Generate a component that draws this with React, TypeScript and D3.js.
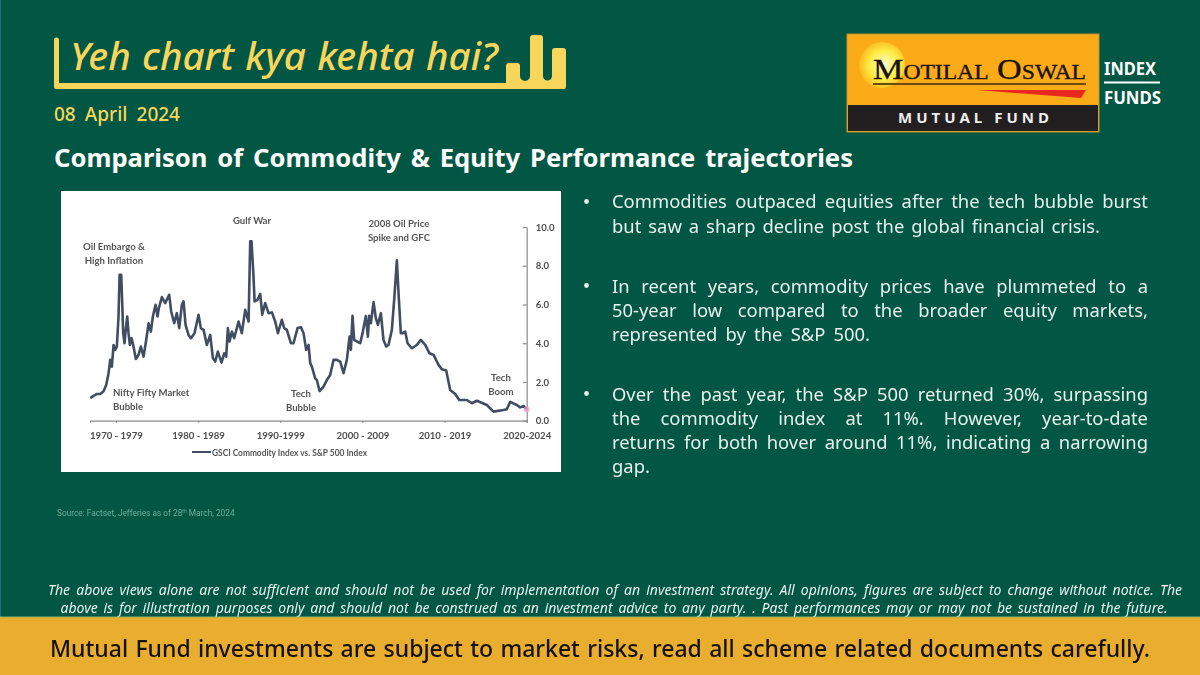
import React, { useEffect, useRef } from 'react';
import * as d3 from 'd3';

// GSCI / S&P 500 ratio
const years = [
  1971.13, 1971.53, 1971.94, 1972.34, 1972.75, 1973.07, 1973.36, 1973.56, 1973.76, 1973.97, 1974.17, 1974.37, 1974.57,
  1974.7, 1974.9, 1975.02, 1975.14, 1975.3, 1975.43, 1975.63, 1975.79, 1975.95, 1976.16, 1976.36, 1976.68, 1977.01,
  1977.29, 1977.62, 1977.94, 1978.23, 1978.51, 1978.75, 1979.08, 1979.32, 1979.48, 1979.85, 1980.25, 1980.74, 1980.98,
  1981.35, 1981.67, 1981.96, 1982.28, 1982.49, 1982.73, 1983.09, 1983.38, 1983.82, 1984.31, 1984.59, 1984.92, 1985.32,
  1985.73, 1986.06, 1986.34, 1986.66, 1987.11, 1987.43, 1987.68, 1987.88, 1988.08, 1988.37, 1988.65, 1989.18, 1989.58,
  1989.99, 1990.4, 1990.6, 1990.76, 1991.0, 1991.13, 1991.49, 1991.82, 1992.06, 1992.42, 1992.83, 1993.24, 1993.64,
  1993.97, 1994.45, 1994.74, 1995.06, 1995.55, 1995.87, 1996.36, 1996.77, 1997.09, 1997.41, 1997.7, 1997.9, 1998.1,
  1998.51, 1998.71, 1999.04, 1999.52, 1999.93, 2000.33, 2000.74, 2001.15, 2001.55, 2001.96, 2002.36, 2002.69, 2002.85,
  2003.05, 2003.25, 2003.58, 2003.99, 2004.31, 2004.67, 2004.92, 2005.08, 2005.28, 2005.61, 2005.89, 2006.14, 2006.5,
  2006.82, 2007.15, 2007.43, 2007.84, 2008.12, 2008.45, 2008.65, 2008.93, 2009.18, 2009.46, 2009.75, 2010.27, 2010.88,
  2011.37, 2011.9, 2012.42, 2012.91, 2013.52, 2013.92, 2014.45, 2014.94, 2015.55, 2016.04, 2016.97, 2017.58, 2018.18,
  2019.4, 2020.21, 2021.42, 2021.83, 2022.24, 2023.05, 2023.45, 2023.86, 2024.25,
];
const ratio = [
  1.17, 1.28, 1.38, 1.38, 1.52, 1.84, 2.45, 3.14, 2.79, 3.91, 3.66, 3.83, 5.38,
  7.53, 7.53, 6.07, 4.52, 4.0, 4.6, 5.38, 4.52, 3.91, 4.26, 3.91, 3.19, 3.4,
  3.83, 3.31, 4.17, 5.03, 4.6, 5.38, 5.98, 5.38, 5.81, 6.38, 6.07, 6.5, 5.64,
  5.03, 5.55, 4.78, 5.98, 6.16, 4.95, 4.43, 4.26, 4.52, 5.47, 4.78, 4.69, 3.91,
  4.43, 3.22, 3.05, 3.57, 3.0, 3.48, 3.31, 4.78, 4.09, 4.6, 4.26, 5.12, 4.52,
  5.72, 5.12, 9.26, 9.26, 7.45, 6.16, 6.24, 6.55, 5.47, 6.07, 5.55, 5.59, 5.12,
  4.52, 5.21, 4.78, 4.69, 4.0, 4.0, 4.78, 4.83, 4.52, 3.66, 3.91, 2.97, 2.79,
  2.19, 2.1, 1.53, 1.76, 2.1, 2.36, 3.14, 3.14, 3.05, 2.45, 3.14, 4.34, 3.66,
  5.41, 4.17, 4.09, 4.0, 4.6, 5.41, 4.34, 5.41, 5.03, 6.12, 5.29, 4.95, 5.55,
  4.17, 3.83, 3.91, 4.69, 6.24, 8.28, 6.59, 4.52, 4.52, 4.6, 4.0, 3.74, 3.91,
  4.17, 3.91, 3.48, 3.4, 2.88, 2.66, 2.59, 1.59, 1.38, 1.07, 1.07, 0.9, 1.03,
  0.81, 0.47, 0.55, 0.59, 0.97, 0.81, 0.69, 0.76, 0.59,
];
const decadeTicks = [1974.25, 1984.25, 1994.25, 2004.25, 2014.25, 2024.25];
const decadeLabels = ['1970 - 1979', '1980 - 1989', '1990-1999', '2000 - 2009', '2010 - 2019', '2020-2024'];
const yTicks = [0, 2, 4, 6, 8, 10];

const bullet1 = [
  'Commodities outpaced equities after the tech bubble burst',
  'but saw a sharp decline post the global financial crisis.',
];
const bullet2 = [
  'In recent years, commodity prices have plummeted to a',
  '50-year low compared to the broader equity markets,',
  'represented by the S&P 500.',
];
const bullet3 = [
  'Over the past year, the S&P 500 returned 30%, surpassing',
  'the commodity index at 11%. However, year-to-date',
  'returns for both hover around 11%, indicating a narrowing',
  'gap.',
];

const green = '#025744';
const yellow = '#f8d65c';
const font = "'Noto Sans', sans-serif";
const chartFont = 'Lato, sans-serif';
const ink = '#3f4d63';

const x = d3.scaleLinear().domain([1971.1, 2024.25]).range([90, 526.7]);
const y = d3.scaleLinear().domain([0, 10]).range([420.7, 227]);
const line = d3.line<number>().x((d, i) => x(years[i])).y((d) => y(d));

export default function App() {
  const svgRef = useRef<SVGSVGElement>(null);
  const xAxisRef = useRef<SVGGElement>(null);
  const yAxisRef = useRef<SVGGElement>(null);

  useEffect(() => {
    const xAxis = d3.axisBottom(x).tickValues(decadeTicks).tickSize(2).tickPadding(9)
      .tickFormat((d, i) => decadeLabels[i]);
    const yAxis = d3.axisRight(y).tickValues(yTicks).tickSizeOuter(0).tickSizeInner(-4).tickPadding(9)
      .tickFormat(d3.format('.1f'));
    d3.select(xAxisRef.current).call(xAxis as any);
    d3.select(yAxisRef.current).call(yAxis as any);
    [xAxisRef, yAxisRef].forEach((r) => {
      const g = d3.select(r.current);
      g.attr('font-family', chartFont).attr('font-size', 9.6).attr('font-weight', 700);
      g.selectAll('text').attr('fill', '#4d4d4d');
      g.selectAll('path,line').attr('stroke', '#8c8c8c').attr('stroke-width', 1.2);
    });

    // stretch word gaps so each line ends where it does in the slide
    d3.select(svgRef.current).selectAll<SVGTextElement, unknown>('text[data-w]').each(function () {
      const el = this;
      const target = +el.getAttribute('data-w')!;
      const gaps = (el.textContent || '').trim().split(/\s+/).length - 1;
      if (gaps > 0) el.setAttribute('word-spacing', String((target - el.getComputedTextLength()) / gaps));
    });
  }, []);

  const body = (lines: string[], widths: number[], baselines: number[], dotY: number) => (
    <g fontFamily={font} fontSize={18.4} fontWeight={400} fill="#e8f1ee">
      <circle cx={586.5} cy={dotY} r={2.4} />
      {lines.map((t, i) => (
        <text key={t} x={612} y={baselines[i]} data-w={widths[i]}>{t}</text>
      ))}
    </g>
  );

  const note = (lines: string[], cx: number, baselines: number[], anchor = 'middle') => (
    <g fontFamily={chartFont} fontSize={9.6} fontWeight={700} fill="#555" textAnchor={anchor}>
      {lines.map((t, i) => <text key={t} x={cx} y={baselines[i]}>{t}</text>)}
    </g>
  );

  return (
    <svg ref={svgRef} width={1200} height={675} style={{ position: 'absolute', left: 0, top: 0 }}>
      <defs>
        <radialGradient id="sun" cx="0.55" cy="0.5" r="0.55">
          <stop offset="0" stopColor="#fffbd0" />
          <stop offset="0.55" stopColor="#fdf04a" />
          <stop offset="1" stopColor="#fbb81c" />
        </radialGradient>
        <filter id="soft"><feGaussianBlur stdDeviation="0.35" /></filter>
      </defs>
      <rect width={1200} height={675} fill={green} />
      <rect width={1} height={617} fill="#1d6f86" />

      {/* header */}
      <path
        fill={yellow}
        d="M54 40a2.5 2.5 0 0 1 5 0V83H506V66a3 3 0 0 1 3-3h8a3 3 0 0 1 3 3V76a5 5 0 0 0 10 0V38a3 3 0 0 1 3-3h7a3 3 0 0 1 3 3V76a4.5 4.5 0 0 0 9 0V51a3 3 0 0 1 3-3h8a3 3 0 0 1 3 3V87a2 2 0 0 1-2 2H56a2 2 0 0 1-2-2Z"
      />
      <text x={70} y={70} fontFamily={font} fontStyle="italic" fontWeight={500} fontSize={38.5} fill={yellow} data-w={428}>
        Yeh chart kya kehta hai?
      </text>
      <text x={54} y={120.5} fontFamily={font} fontWeight={500} fontSize={19} fill={yellow} data-w={126}>08 April 2024</text>
      <text x={54} y={167} fontFamily={font} fontWeight={700} fontSize={25.6} fill="#fff" data-w={799}>
        Comparison of Commodity &amp; Equity Performance trajectories
      </text>

      {/* logo */}
      <rect x={847} y={34} width={252} height={98} fill="#fbab18" stroke="#b8932f" />
      <circle cx={882} cy={65} r={23} fill="url(#sun)" />
      <text x={873} y={79} fontFamily="'Liberation Serif', serif" fontSize={29} fill="#1a1208" stroke="#1a1208" strokeWidth={0.35} textLength={213} lengthAdjust="spacingAndGlyphs" style={{ fontVariant: 'small-caps' }}>
        Motilal Oswal
      </text>
      <rect x={873} y={83} width={213} height={2} fill="#6d4a12" />
      <path d="M977 90H1086L1081 98Z" fill="#e8281e" />
      <rect x={848} y={105} width={250} height={26} fill="#231f20" />
      <text x={898} y={123} fontFamily={font} fontWeight={700} fontSize={15} fill="#eee" textLength={151}>MUTUAL FUND</text>
      <g fontFamily={font} fontWeight={700} fontSize={18} fill="#fff">
        <text x={1104} y={75} textLength={52} lengthAdjust="spacingAndGlyphs">INDEX</text>
        <text x={1104} y={104} textLength={57} lengthAdjust="spacingAndGlyphs">FUNDS</text>
      </g>
      <rect x={1104} y={81.5} width={56} height={2} fill="#fff" />

      {/* chart picture */}
      <rect x={61} y={191} width={500} height={281} fill="#fff" />
      <g filter="url(#soft)">
        <g ref={xAxisRef} transform="translate(0,420.7)" />
        <g ref={yAxisRef} transform="translate(526.7,0)" />
        <path d={line(ratio) || ''} fill="none" stroke={ink} strokeWidth={2.6} strokeLinejoin="round" />
        <circle cx={x(2024.25)} cy={y(0.59)} r={3} fill="#f0a0c8" opacity={0.75} />
        {note(['Oil Embargo &', 'High Inflation'], 114, [250, 264])}
        {note(['Gulf War'], 252, [224])}
        {note(['Nifty Fifty Market', 'Bubble'], 113, [396, 410], 'start')}
        {note(['Tech', 'Bubble'], 301, [397, 411])}
        {note(['2008 Oil Price', 'Spike and GFC'], 399, [227, 241])}
        {note(['Tech', 'Boom'], 501, [381, 395])}
        <line x1={192} x2={211} y1={452} y2={452} stroke={ink} strokeWidth={2} />
        <text x={212} y={456} fontFamily={chartFont} fontSize={9.6} fontWeight={700} fill="#555" textLength={155} lengthAdjust="spacingAndGlyphs">
          GSCI Commodity Index vs. S&amp;P 500 Index
        </text>
      </g>

      <text x={57} y={515.5} fontFamily="Roboto, sans-serif" fontSize={8.3} fill="#6fae9b">
        Source: Factset, Jefferies as of 28<tspan fontSize={5} dy={-3}>th</tspan><tspan dy={3}> March, 2024</tspan>
      </text>

      {/* commentary */}
      {body(bullet1, [536, 488], [208, 232.5], 201.5)}
      {body(bullet2, [536, 536, 258], [292.5, 317, 341], 285.5)}
      {body(bullet3, [536, 536, 536, 37], [400.5, 425, 449, 473], 393.5)}

      {/* footer */}
      <g fontFamily={font} fontStyle="italic" fontSize={14} fill="#e8f1ee">
        <text x={48} y={595} data-w={1134}>
          The above views alone are not sufficient and should not be used for implementation of an investment strategy. All opinions, figures are subject to change without notice. The
        </text>
        <text x={60.5} y={612.5} data-w={1107}>
          above is for illustration purposes only and should not be construed as an investment advice to any party. . Past performances may or may not be sustained in the future.
        </text>
      </g>
      <rect y={617} width={1200} height={58} fill="#e9ae30" />
      <rect y={616.5} width={1200} height={1} fill="#8db56a" />
      <text x={50} y={657} fontFamily={font} fontWeight={500} fontSize={23} fill="#16110a" data-w={1100}>
        Mutual Fund investments are subject to market risks, read all scheme related documents carefully.
      </text>
    </svg>
  );
}
